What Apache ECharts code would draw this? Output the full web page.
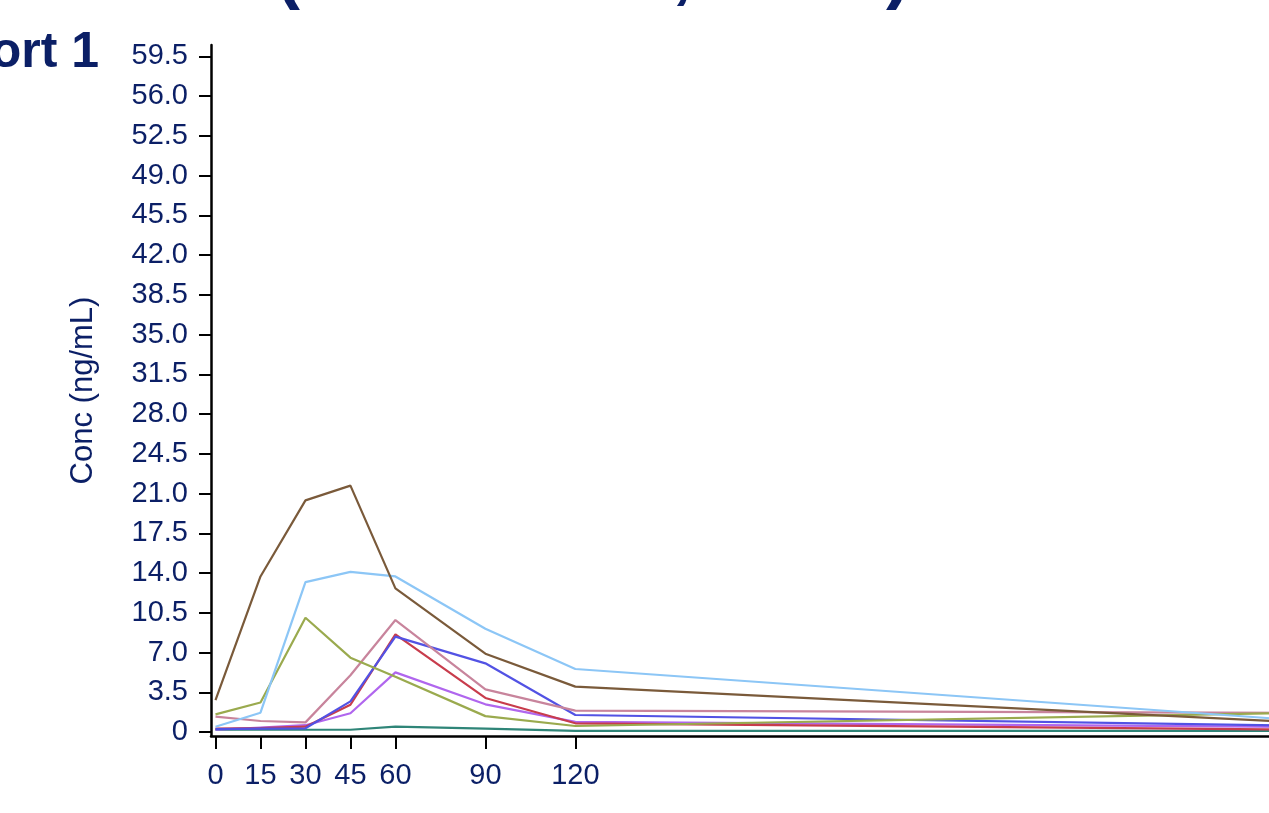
<!DOCTYPE html>
<html>
<head>
<meta charset="utf-8">
<script src="https://cdn.jsdelivr.net/npm/echarts@6/dist/echarts.min.js"></script>
<style>
    html, body { margin: 0; padding: 0; overflow: hidden; background: #fff; }
    #conc-plot { position: absolute; left: 0; top: 0; width: 1340px; height: 813px; }
</style>
</head>
<body>
<div id="conc-plot"></div>
<script>
// sampling times (min)
var times = [0, 15, 30, 45, 60, 90, 120, 360];
var xTickValues = [0, 15, 30, 45, 60, 90, 120, 360];
var yTickValues = [0, 3.5, 7, 10.5, 14, 17.5, 21, 24.5, 28, 31.5, 35, 38.5, 42, 45.5, 49, 52.5, 56, 59.5];

// concentration per subject (ng/mL)
var subjBrown  = [2.8, 13.7, 20.4, 21.7, 12.65, 6.9, 4.0, 0.88];
var subjSky    = [0.47, 1.7, 13.2, 14.1, 13.7, 9.1, 5.55, 1.06];
var subjOlive  = [1.55, 2.6, 10.06, 6.55, 4.87, 1.4, 0.53, 1.69];
var subjPink   = [1.35, 0.97, 0.85, 5.0, 9.86, 3.75, 1.88, 1.69];
var subjRed    = [0.3, 0.35, 0.47, 2.4, 8.6, 3.0, 0.77, 0.22];
var subjBlue   = [0.25, 0.3, 0.33, 2.7, 8.4, 6.05, 1.5, 0.56];
var subjViolet = [0.2, 0.4, 0.6, 1.65, 5.25, 2.44, 0.9, 0.45];
var subjTeal   = [0.2, 0.2, 0.2, 0.2, 0.47, 0.3, 0.1, 0.1];

var txtColor = '#0b1f66';
var font = 'Liberation Sans, Arial, sans-serif';

function pairs(vals) {
    return vals.map(function (v, i) { return [times[i], v]; });
}

function mkLine(name, vals, color) {
    return {
        name: name,
        type: 'line',
        data: pairs(vals),
        showSymbol: false,
        symbol: 'none',
        lineStyle: { color: color, width: 2.2 },
        animation: false
    };
}

var dom = document.getElementById('conc-plot');
var myChart = echarts.init(dom, null, { renderer: 'canvas' });
var option = {
    backgroundColor: '#fff',
    animation: false,
    graphic: [
        {
            // main title, mostly above the visible area
            type: 'text',
            x: 593, y: -25,
            style: {
                text: '(Linear Plot, N = 8)',
                font: 'bold 72px ' + font,
                fill: txtColor,
                textAlign: 'center',
                textVerticalAlign: 'middle'
            }
        },
        {
            type: 'text',
            x: 99, y: 53,
            style: {
                text: 'Cohort 1',
                font: 'bold 50px ' + font,
                fill: txtColor,
                textAlign: 'right',
                textVerticalAlign: 'middle'
            }
        }
    ],
    grid: {
        left: 211,
        top: 45,
        bottom: 77,
        right: 15,
        containLabel: false
    },
    xAxis: {
        type: 'value',
        min: -1.5,
        max: 370,
        axisLine: { show: true, onZero: false, lineStyle: { color: '#000', width: 2.5 } },
        axisTick: { show: true, length: 13, customValues: xTickValues, lineStyle: { color: '#000', width: 2 } },
        axisLabel: {
            customValues: xTickValues,
            margin: 25,
            color: txtColor,
            fontSize: 29,
            fontFamily: font
        },
        splitLine: { show: false }
    },
    yAxis: {
        type: 'value',
        min: -0.35,
        max: 60.5,
        name: 'Conc (ng/mL)',
        nameLocation: 'middle',
        nameGap: 112,
        nameTextStyle: { color: txtColor, fontSize: 31, fontFamily: font },
        axisLine: { show: true, onZero: false, lineStyle: { color: '#000', width: 2.5 } },
        axisTick: { show: true, length: 12, customValues: yTickValues, lineStyle: { color: '#000', width: 2 } },
        axisLabel: {
            customValues: yTickValues,
            margin: 23,
            color: txtColor,
            fontSize: 29,
            fontFamily: font,
            formatter: function (v) { return v === 0 ? '0' : v.toFixed(1); }
        },
        splitLine: { show: false }
    },
    series: [
        mkLine('S8', subjTeal, '#2f8578'),
        mkLine('S7', subjViolet, '#b066ee'),
        mkLine('S6', subjRed, '#c83c4c'),
        mkLine('S5', subjBlue, '#5252e4'),
        mkLine('S4', subjPink, '#c8849c'),
        mkLine('S3', subjOlive, '#9aaa4e'),
        mkLine('S2', subjSky, '#8cc6f6'),
        mkLine('S1', subjBrown, '#7a5a3a')
    ]
};
if (option && typeof option === "object") {
    myChart.setOption(option, true);
}
</script>
</body>
</html>
